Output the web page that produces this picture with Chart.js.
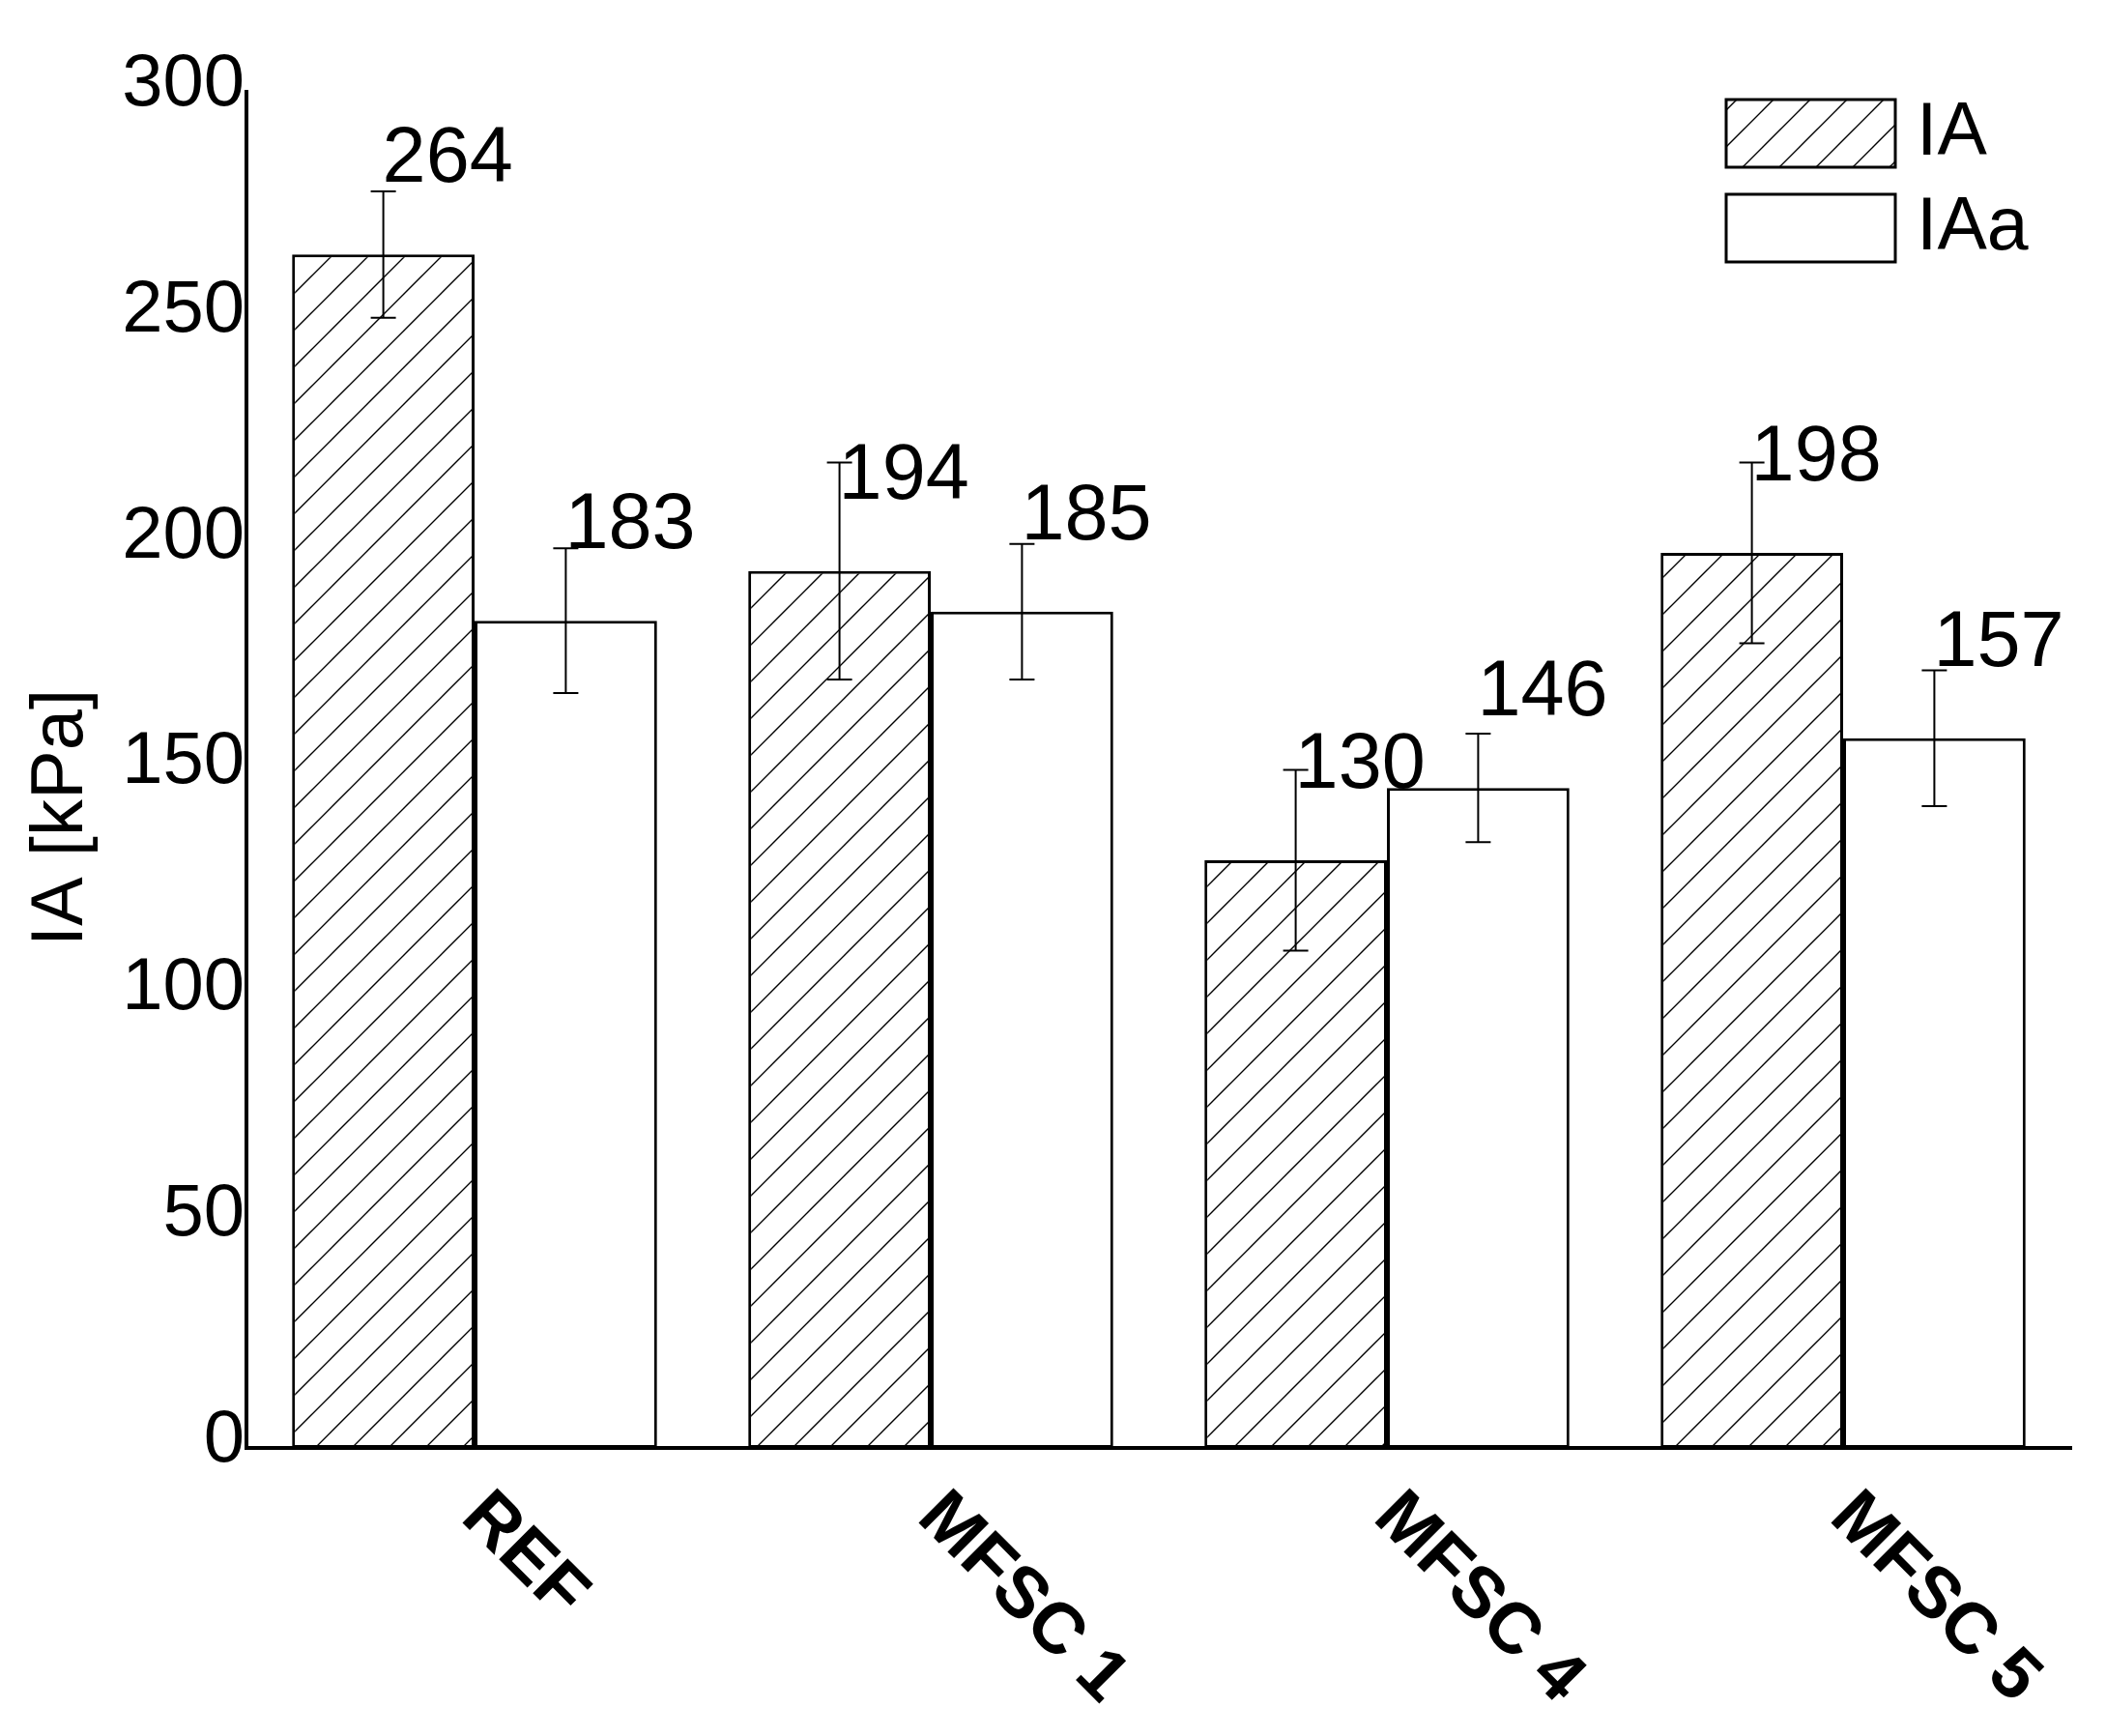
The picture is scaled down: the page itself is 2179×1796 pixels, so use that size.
<!doctype html>
<html>

<head>
	<title>IA by mixture</title>
	<script src="https://cdn.jsdelivr.net/npm/chart.js@4.4.0/dist/chart.umd.min.js"></script>
	<style>
		body { margin: 0; background: #fff; overflow: hidden; }
		canvas { display: block; }
	</style>
</head>

<body>
	<canvas id="chart-area" width="2179" height="1796"></canvas>

	<script>
		// values
		const categories = ['REF', 'MFSC 1', 'MFSC 4', 'MFSC 5'];
		const seriesNames = ['IA', 'IAa'];
		const iaValues = [264, 194, 130, 198];
		const iaErrors = [14, 24, 20, 20];
		const iaaValues = [183, 185, 146, 157];
		const iaaErrors = [16, 15, 12, 15];
		const yTicks = [0, 50, 100, 150, 200, 250, 300];
		const yTitle = 'IA [kPa]';

		const FONT = '"Liberation Sans", Arial, sans-serif';
		const ctx2d = document.getElementById('chart-area').getContext('2d');

		// diagonal "/" hatching like the original
		function makeHatch(step, lw) {
			const c = document.createElement('canvas');
			c.width = step;
			c.height = step;
			const g = c.getContext('2d');
			g.fillStyle = '#fff';
			g.fillRect(0, 0, step, step);
			g.strokeStyle = '#000';
			g.lineWidth = lw;
			g.beginPath();
			g.moveTo(-2, step + 2); g.lineTo(step + 2, -2);
			g.moveTo(-2, 2); g.lineTo(2, -2);
			g.moveTo(step - 2, step + 2); g.lineTo(step + 2, step - 2);
			g.stroke();
			return ctx2d.createPattern(c, 'repeat');
		}
		const hatch = makeHatch(38, 1.4);

		const errorsBySet = [iaErrors, iaaErrors];

		const errorBars = {
			id: 'errorBars',
			afterDatasetsDraw(chart) {
				const ctx = chart.ctx;
				const y = chart.scales.y;
				ctx.save();
				ctx.strokeStyle = '#000';
				ctx.lineWidth = 2;
				chart.data.datasets.forEach((ds, di) => {
					const meta = chart.getDatasetMeta(di);
					meta.data.forEach((bar, i) => {
						const v = ds.data[i];
						const e = errorsBySet[di][i];
						const top = y.getPixelForValue(v + e);
						const bot = y.getPixelForValue(v - e);
						ctx.beginPath();
						ctx.moveTo(bar.x, top); ctx.lineTo(bar.x, bot);
						ctx.moveTo(bar.x - 13, top); ctx.lineTo(bar.x + 13, top);
						ctx.moveTo(bar.x - 13, bot); ctx.lineTo(bar.x + 13, bot);
						ctx.stroke();
					});
				});
				// value labels
				ctx.fillStyle = '#000';
				ctx.font = '81px ' + FONT;
				ctx.textAlign = 'left';
				ctx.textBaseline = 'alphabetic';
				chart.data.datasets.forEach((ds, di) => {
					chart.getDatasetMeta(di).data.forEach((bar, i) => {
						ctx.fillText(String(ds.data[i]), bar.x - 1, bar.y - 75);
					});
				});
				ctx.restore();
			}
		};

		const extras = {
			id: 'extras',
			afterDraw(chart) {
				const ctx = chart.ctx;
				const xs = chart.scales.x;
				ctx.save();
				ctx.fillStyle = '#000';
				// slanted category labels
				ctx.font = 'bold 74px ' + FONT;
				ctx.textAlign = 'left';
				ctx.textBaseline = 'alphabetic';
				categories.forEach((c, i) => {
					const x = xs.getPixelForTick(i);
					ctx.save();
					ctx.translate(x - 16, xs.top + 74);
					ctx.rotate(Math.PI / 4);
					ctx.fillText(c, 0, 0);
					ctx.restore();
				});
				// y title
				ctx.font = '76px ' + FONT;
				ctx.textAlign = 'center';
				ctx.textBaseline = 'middle';
				ctx.save();
				ctx.translate(64, 846);
				ctx.rotate(-Math.PI / 2);
				ctx.fillText(yTitle, 0, 0);
				ctx.restore();
				// legend
				ctx.font = '77px ' + FONT;
				ctx.textAlign = 'left';
				chart.data.datasets.forEach((ds, i) => {
					const by = 103 + i * 98;
					ctx.fillStyle = ds.backgroundColor;
					ctx.fillRect(1786, by, 175, 70);
					ctx.lineWidth = 3;
					ctx.strokeStyle = '#000';
					ctx.strokeRect(1786, by, 175, 70);
					ctx.fillStyle = '#000';
					ctx.fillText(ds.label, 1983, by + 36);
				});
				ctx.restore();
			}
		};

		new Chart(ctx2d, {
			type: 'bar',
			data: {
				labels: categories,
				datasets: [{
					label: seriesNames[0],
					data: iaValues,
					backgroundColor: hatch,
					borderColor: '#000',
					borderWidth: 3,
					borderSkipped: false,
					categoryPercentage: 0.8,
					barPercentage: 1.0
				}, {
					label: seriesNames[1],
					data: iaaValues,
					backgroundColor: '#fff',
					borderColor: '#000',
					borderWidth: 3,
					borderSkipped: false,
					categoryPercentage: 0.8,
					barPercentage: 1.0
				}]
			},
			options: {
				responsive: false,
				devicePixelRatio: 1,
				animation: false,
				layout: {
					padding: { left: 0, right: 36, top: 95, bottom: 0 }
				},
				plugins: {
					legend: { display: false },
					tooltip: { enabled: false }
				},
				scales: {
					x: {
						offset: true,
						grid: { display: false, drawTicks: false },
						border: { display: true, color: '#000', width: 4 },
						ticks: { display: false },
						afterFit(scale) { scale.height = 298; }
					},
					y: {
						min: 0,
						max: 300,
						grid: { display: false, drawTicks: false },
						border: { display: true, color: '#000', width: 4 },
						ticks: {
							color: '#000',
							font: { family: FONT, size: 76 },
							padding: 2,
							labelOffset: -7
						},
						afterBuildTicks(scale) {
							scale.ticks = yTicks.map(v => ({ value: v }));
						},
						afterFit(scale) { scale.width = 255; }
					}
				}
			},
			plugins: [errorBars, extras]
		});
	</script>
</body>

</html>
